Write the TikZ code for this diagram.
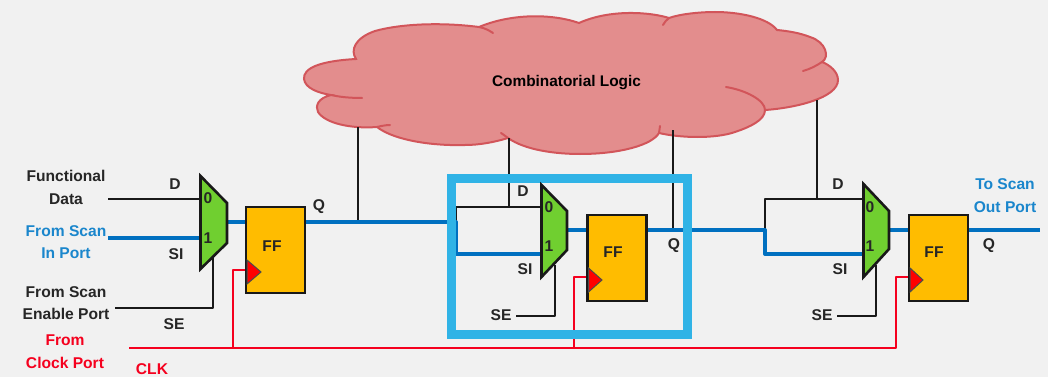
\documentclass[tikz,border=0pt]{standalone}
\usepackage{fontspec}
\setmainfont{Liberation Sans}
\definecolor{bgc}{HTML}{F1F1F1}
\definecolor{wireblue}{HTML}{0070C0}
\definecolor{lblblue}{HTML}{1A86CC}
\definecolor{boxblue}{HTML}{30B3E6}
\definecolor{muxgreen}{HTML}{70CF30}
\definecolor{ffor}{HTML}{FFBC00}
\definecolor{cloudf}{HTML}{E38D8D}
\definecolor{clouds}{HTML}{D2555A}
\definecolor{wirered}{HTML}{F5001E}
\tikzset{
  x=1pt,y=-1pt,
  lbl/.style={inner sep=0pt,align=center,font=\bfseries\fontsize{15.6}{22.5}\selectfont,text=black!85},
  lblb/.style={lbl,text=lblblue},
  lblr/.style={lbl,text=wirered},
  bwire/.style={draw=black!90,line width=2.4pt,line join=round},
  swire/.style={draw=wireblue,line width=4pt,line join=round},
  cwire/.style={draw=wirered,line width=2.8pt,line join=round},
  muxbody/.style={draw=black!90,fill=muxgreen,line width=2.6pt,line join=miter},
  ffbox/.style={draw=black!90,fill=ffor,line width=2.6pt,inner sep=0pt,outer sep=0pt,anchor=north west,minimum width=59pt,minimum height=86pt},
  clktri/.style={draw=black!70,fill=red,line width=1pt,line join=miter},
  cloudedge/.style={draw=clouds,line width=2pt,line cap=round},
}
\begin{document}
\begin{tikzpicture}
\useasboundingbox (0,0) rectangle (1048,377);
\fill[bgc] (0,0) rectangle (1048,377);

% cloud
\path[fill=cloudf,cloudedge]
  (356,59) .. controls (320,61) and (303,68) .. (304,79)
  .. controls (305,88) and (318,93) .. (331,95)
  .. controls (318,98) and (315,106) .. (318,112)
  .. controls (325,123) and (350,129) .. (377,127)
  .. controls (395,141) and (435,146) .. (465,145)
  .. controls (480,145) and (495,142) .. (508,138)
  .. controls (525,150) and (555,154) .. (580,154)
  .. controls (620,154) and (652,145) .. (659,133)
  .. controls (680,138) and (715,139) .. (735,132)
  .. controls (750,127) and (765,120) .. (765,110)
  .. controls (795,108) and (838,98) .. (838,80)
  .. controls (838,72) and (830,65) .. (822,62)
  .. controls (830,57) and (826,42) .. (810,37)
  .. controls (800,33) and (788,31) .. (777,30)
  .. controls (768,18) and (740,12) .. (715,12)
  .. controls (700,12) and (680,14) .. (669,18)
  .. controls (650,12) and (610,9) .. (579,23)
  .. controls (550,13) and (510,14) .. (479,27)
  .. controls (440,22) and (400,24) .. (375,31)
  .. controls (355,38) and (350,50) .. (356,59) -- cycle;
\draw[cloudedge] (331,95) .. controls (340,97) and (350,98) .. (362,98);
\draw[cloudedge] (377,127) .. controls (381,126) and (386,125) .. (390,125);
\draw[cloudedge] (508,138) .. controls (505,136) and (503,134) .. (501,133);
\draw[cloudedge] (659,133) -- (660,126);
\draw[cloudedge] (765,110) .. controls (765,100) and (745,90) .. (726,87);
\draw[cloudedge] (822,62) .. controls (816,66) and (810,69) .. (803,71);
\draw[cloudedge] (669,18) .. controls (666,20) and (665,22) .. (663,25);
\draw[cloudedge] (479,27) .. controls (485,28) and (490,31) .. (493,33);
\node[lbl,font=\bfseries\fontsize{15.4}{18}\selectfont,text=black] (cloudtxt) at (566.5,83) {Combinatorial Logic};

% named points
\coordinate (d1s) at (108,199); \coordinate (d1e) at (200,199);
\coordinate (s1s) at (108,238); \coordinate (s1e) at (200,238);
\coordinate (e1s) at (115,308); \coordinate (e1k) at (213,308); \coordinate (e1e) at (213,258);
\coordinate (m1o) at (227,222); \coordinate (f1i) at (246,222); \coordinate (f1o) at (305,222);
\coordinate (t1) at (358,127); \coordinate (j1) at (358,222);
\coordinate (j2) at (456,222); \coordinate (c2) at (456,207); \coordinate (d2e) at (542,207);
\coordinate (b2) at (456,254); \coordinate (s2e) at (542,254);
\coordinate (t2) at (509,138); \coordinate (j2t) at (509,207);
\coordinate (m2o) at (567,230); \coordinate (f2i) at (587,230); \coordinate (f2o) at (647,230);
\coordinate (t3) at (673,130); \coordinate (j3) at (673,230);
\coordinate (j4) at (765,230); \coordinate (c4) at (765,199); \coordinate (d3e) at (863,199);
\coordinate (b4) at (765,254); \coordinate (s3e) at (863,254);
\coordinate (t4) at (817,100); \coordinate (j4t) at (817,199);
\coordinate (m3o) at (889,230); \coordinate (f3i) at (909,230); \coordinate (f3o) at (968,230);
\coordinate (oend) at (1040,230);
\coordinate (e2s) at (516,316); \coordinate (e2k) at (555,316); \coordinate (e2e) at (555,265);
\coordinate (e3s) at (837,316); \coordinate (e3k) at (876,316); \coordinate (e3e) at (876,265);
\coordinate (ck0) at (129,348); \coordinate (ck3) at (896,348); \coordinate (ck3u) at (896,277); \coordinate (ck3e) at (909,277);
\coordinate (ck1) at (233,348); \coordinate (ck1u) at (233,270); \coordinate (ck1e) at (247,270);
\coordinate (ck2) at (574,348); \coordinate (ck2u) at (574,277); \coordinate (ck2e) at (587,277);

% wires
\draw[bwire] (t1) -- (j1);
\draw[bwire] (t2) -- (j2t);
\draw[bwire] (t3) -- (j3);
\draw[bwire] (t4) -- (j4t);
\draw[bwire] (d1s) -- (d1e);
\draw[bwire] (j2) -- (c2) -- (d2e);
\draw[bwire] (j4) -- (c4) -- (d3e);
\draw[bwire] (e1s) -- (e1k) -- (e1e);
\draw[bwire] (e2s) -- (e2k) -- (e2e);
\draw[bwire] (e3s) -- (e3k) -- (e3e);
\draw[swire] (s1s) -- (s1e);
\draw[swire] (m1o) -- (f1i);
\draw[swire] (f1o) -- (j2) -- (b2) -- (s2e);
\draw[swire] (m2o) -- (f2i);
\draw[swire] (f2o) -- (j4) -- (b4) -- (s3e);
\draw[swire] (m3o) -- (f3i);
\draw[swire] (f3o) -- (oend);
\draw[cwire] (ck0) -- (ck3) -- (ck3u) -- (ck3e);
\draw[cwire] (ck1) -- (ck1u) -- (ck1e);
\draw[cwire] (ck2) -- (ck2u) -- (ck2e);

% highlight box
\draw[boxblue,line width=9pt] (451.5,178.5) rectangle (687.5,334.5);

% muxes
\draw[muxbody] (200.5,176) -- (227,203) -- (227,243) -- (200.5,269) -- cycle;
\draw[muxbody] (541.5,185) -- (567,211) -- (567,250) -- (541.5,277) -- cycle;
\draw[muxbody] (863.5,184) -- (889,211) -- (889,249) -- (863.5,277) -- cycle;

% flip-flops
\node[ffbox] (ff1) at (246,207) {};
\node[ffbox] (ff2) at (587.5,215) {};
\node[ffbox] (ff3) at (909,215) {};
\draw[clktri] (247,260) -- (261,272) -- (247,284) -- cycle;
\draw[clktri] (588.5,268) -- (602,280) -- (588.5,292) -- cycle;
\draw[clktri] (910,268) -- (923,280) -- (910,292) -- cycle;
\node[lbl] (ff1t) at (272,246) {FF};
\node[lbl] (ff2t) at (613,252) {FF};
\node[lbl] (ff3t) at (934,252) {FF};

% mux digits
\node[lbl] (m1z) at (208,198) {0};
\node[lbl] (m1u) at (208,238) {1};
\node[lbl] (m2z) at (549,207) {0};
\node[lbl] (m2u) at (549,246) {1};
\node[lbl] (m3z) at (870,207) {0};
\node[lbl] (m3u) at (870,246) {1};

% text labels
\node[lbl] (tfd) at (66,187.5) {Functional\\Data};
\node[lblb] (tsi) at (66,242) {From Scan\\In Port};
\node[lbl] (tse) at (66,303) {From Scan\\Enable Port};
\node[lblr] (tck) at (65,351.5) {From\\Clock Port};
\node[lblr] (tclk) at (152,369) {CLK};
\node[lbl] (d1) at (175,184) {D};
\node[lbl] (si1) at (176,254) {SI};
\node[lbl] (se1) at (174,324) {SE};
\node[lbl] (q1) at (319,207) {Q};
\node[lbl] (d2) at (523,191) {D};
\node[lbl] (si2) at (525,269) {SI};
\node[lbl] (se2) at (501,315) {SE};
\node[lbl] (q2) at (674,246) {Q};
\node[lbl] (d3) at (838,184) {D};
\node[lbl] (si3) at (840,269) {SI};
\node[lbl] (se3) at (822,315) {SE};
\node[lbl] (q3) at (989,246) {Q};
\node[lblb] (tso) at (1005,195.5) {To Scan\\Out Port};
\end{tikzpicture}
\end{document}
